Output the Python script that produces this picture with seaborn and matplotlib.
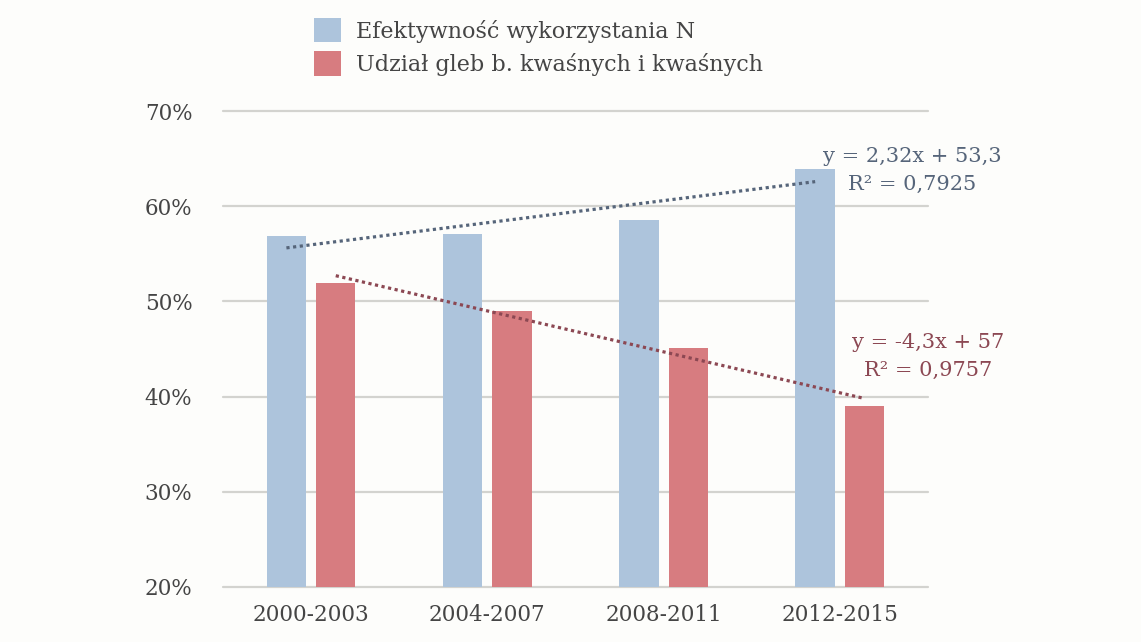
import numpy as np
import pandas as pd
import seaborn as sns
import matplotlib.pyplot as plt

PATH_OUT = 'out.png'

periods = ['2000-2003', '2004-2007', '2008-2011', '2012-2015']
series_names = ['Efektywność wykorzystania N', 'Udział gleb b. kwaśnych i kwaśnych']
efficiency_n = [56.9, 57.1, 58.6, 63.9]
acid_soils = [51.9, 49.0, 45.1, 39.0]

# trend lines as given on the chart (x = 1..4)
trend_eff = [2.32, 53.3]
trend_acid = [-4.3, 57.0]
trend_eff_label = 'y = 2,32x + 53,3\nR² = 0,7925'
trend_acid_label = 'y = -4,3x + 57\nR² = 0,9757'

y_ticks = [20, 30, 40, 50, 60, 70]

BLUE = '#adc4dc'
RED = '#d77c80'
BLUE_DARK = '#56657a'
RED_DARK = '#8c4853'
GREY_TEXT = '#454545'
GRID = '#d3d3cf'
BG = '#fdfdfb'


def main():
    df = pd.DataFrame({
        'okres': periods * 2,
        'seria': [series_names[0]] * 4 + [series_names[1]] * 4,
        'wartosc': efficiency_n + acid_soils,
    })

    sns.set_style('white')
    plt.rcParams['font.family'] = ['DejaVu Serif']

    fig = plt.figure(figsize=(11.41, 6.42), dpi=100, facecolor=BG)
    ax = fig.add_axes([0.1954, 0.0857, 0.6179, 0.7414], facecolor=BG)

    sns.barplot(data=df, x='okres', y='wartosc', hue='seria',
                palette=[BLUE, RED], width=0.56, gap=0.2,
                saturation=1, linewidth=0, ax=ax, zorder=3)

    # dotted trend lines from bar centre of first to last group
    off = 0.14
    for coef, sign, col in [(trend_eff, -1, BLUE_DARK), (trend_acid, 1, RED_DARK)]:
        xs = np.arange(1, 5)
        ys = coef[0] * xs + coef[1]
        ax.plot([xs[0] - 1 + sign * off, xs[-1] - 1 + sign * off], [ys[0], ys[-1]],
                color=col, linewidth=2.3, linestyle=(0, (1, 1.1)),
                dash_capstyle='butt', zorder=5)

    ax.text(3.41, 63.8, trend_eff_label, color=BLUE_DARK, fontsize=15,
            ha='center', va='center', linespacing=1.6, zorder=6)
    ax.text(3.50, 44.2, trend_acid_label, color=RED_DARK, fontsize=15,
            ha='center', va='center', linespacing=1.6, zorder=6)

    ax.set_xlim(-0.5, 3.5)
    ax.set_ylim(20, 70)
    ax.set_yticks(y_ticks)
    ax.set_yticklabels([f'{t}%' for t in y_ticks])
    ax.yaxis.grid(True, color=GRID, linewidth=1.6, zorder=0)
    for gl in ax.get_ygridlines():
        gl.set_clip_on(False)
    ax.set_axisbelow(True)
    for s in ax.spines.values():
        s.set_visible(False)
    ax.tick_params(axis='both', length=0, labelsize=15.5, colors=GREY_TEXT)
    ax.tick_params(axis='y', pad=22)
    ax.tick_params(axis='x', pad=12)
    ax.set_xlabel('')
    ax.set_ylabel('')

    handles, labels = ax.get_legend_handles_labels()
    ax.legend_.remove()
    fig.legend(handles, labels, loc='upper left', bbox_to_anchor=(0.2752, 0.972),
               frameon=False, fontsize=16, handlelength=1.2, handleheight=1.3,
               handletextpad=0.7, labelspacing=0.4, labelcolor=GREY_TEXT,
               borderaxespad=0, borderpad=0)

    fig.savefig(PATH_OUT, dpi=100, facecolor=BG)


if __name__ == '__main__':
    main()
